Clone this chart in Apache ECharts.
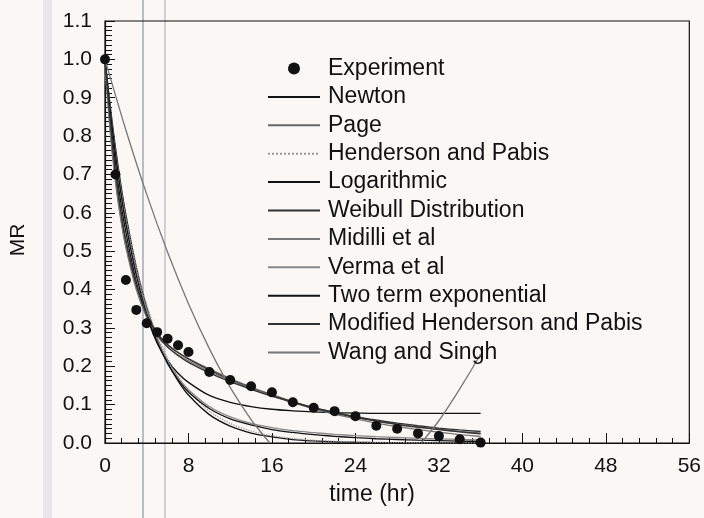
<!DOCTYPE html>
<html><head><meta charset="utf-8">
<script src="https://cdn.jsdelivr.net/npm/echarts@6/dist/echarts.min.js"></script>
<style>html,body{margin:0;padding:0;background:#faf7f4;}#c{width:704px;height:518px;}</style>
</head><body><div id="c"></div>
<script>
// Experimental points
const expTime = [0,1,2,3,4,5,6,7,8,10,12,14,16,18,20,22,24,26,28,30,32,34,36];
const expMR   = [1.0,0.70,0.425,0.347,0.312,0.289,0.272,0.255,0.237,0.185,0.164,0.148,0.132,0.106,0.092,0.083,0.070,0.045,0.037,0.025,0.018,0.010,0.001];

// Model curves
const fitTime = [0,0.5,1,1.5,2,3,4,5,6,7,8,10,12,14,16,18,20,22,24,26,28,30,32,34,36];
const newton   = [1,0.878,0.771,0.677,0.595,0.458,0.353,0.273,0.210,0.162,0.125,0.074,0.044,0.026,0.016,0.009,0.0055,0.0033,0.0019,0.0012,0.0007,0.0004,0.0002,0.0001,0.0001];
const page     = [1,0.82,0.69,0.59,0.515,0.405,0.33,0.283,0.255,0.236,0.22,0.193,0.168,0.146,0.126,0.108,0.092,0.079,0.068,0.058,0.049,0.042,0.036,0.030,0.026];
const hendPabis= [0.96,0.85,0.752,0.665,0.588,0.46,0.36,0.282,0.221,0.173,0.135,0.083,0.051,0.031,0.019,0.0117,0.0072,0.0044,0.0027,0.0016,0.001,0.0006,0.0004,0.0002,0.0001];
const logarithmic = [1,0.85,0.73,0.63,0.55,0.42,0.33,0.26,0.215,0.182,0.158,0.124,0.106,0.095,0.088,0.084,0.081,0.079,0.078,0.077,0.077,0.077,0.077,0.077,0.077];
const weibull  = [1,0.83,0.70,0.60,0.52,0.41,0.335,0.287,0.257,0.236,0.219,0.19,0.165,0.143,0.124,0.107,0.092,0.08,0.069,0.06,0.052,0.045,0.039,0.034,0.03];
const midilli  = [1,0.81,0.68,0.585,0.51,0.40,0.327,0.28,0.25,0.23,0.214,0.187,0.163,0.142,0.123,0.105,0.089,0.075,0.063,0.052,0.043,0.035,0.028,0.022,0.017];
const verma    = [1,0.872,0.76,0.664,0.581,0.447,0.347,0.272,0.215,0.171,0.139,0.095,0.068,0.051,0.04,0.032,0.027,0.0227,0.0193,0.0166,0.0143,0.0122,0.0106,0.0093,0.0081];
const twoTerm  = [1,0.867,0.753,0.655,0.571,0.437,0.336,0.263,0.207,0.165,0.133,0.09,0.063,0.047,0.035,0.0275,0.0217,0.0175,0.014,0.0111,0.0091,0.0075,0.0061,0.005,0.0041];
const modHendPabis = [1,0.84,0.71,0.61,0.53,0.415,0.335,0.283,0.25,0.228,0.21,0.183,0.16,0.14,0.122,0.106,0.091,0.078,0.067,0.057,0.048,0.041,0.035,0.029,0.024];
const wangTime = [0,2,4,6,8,10,12,14,15,15.8,23,30.3,32,34,36];
const wangSingh = [1,0.816,0.648,0.497,0.363,0.246,0.145,0.061,0.026,0,null,0,0.058,0.141,0.232];

const xTicks = [0,8,16,24,32,40,48,56];
const yTicks = [0,0.1,0.2,0.3,0.4,0.5,0.6,0.7,0.8,0.9,1.0,1.1];

const FONT = 'Liberation Sans';
const pair = (t, v) => t.map((x, i) => [x, v[i]]);

const models = [
  {name:'Newton', t:fitTime, v:newton, color:'#111', type:'solid'},
  {name:'Page', t:fitTime, v:page, color:'#666', type:'solid'},
  {name:'Henderson and Pabis', t:fitTime, v:hendPabis, color:'#9a9a9a', type:'dotted'},
  {name:'Logarithmic', t:fitTime, v:logarithmic, color:'#111', type:'solid'},
  {name:'Weibull Distribution', t:fitTime, v:weibull, color:'#333', type:'solid'},
  {name:'Midilli et al', t:fitTime, v:midilli, color:'#777', type:'solid'},
  {name:'Verma et al', t:fitTime, v:verma, color:'#888', type:'solid'},
  {name:'Two term exponential', t:fitTime, v:twoTerm, color:'#111', type:'solid'},
  {name:'Modified Henderson and Pabis', t:fitTime, v:modHendPabis, color:'#333', type:'solid'},
  {name:'Wang and Singh', t:wangTime, v:wangSingh, color:'#777', type:'solid'}
];

const series = [{
  name:'Experiment', type:'scatter', data: pair(expTime, expMR),
  symbol:'circle', symbolSize:10, itemStyle:{color:'#111', opacity:1}, z:5
}].concat(models.map(m => ({
  name:m.name, type:'line', data:pair(m.t, m.v), showSymbol:false, symbol:'none',
  smooth:0.3, connectNulls:false, clip:true,
  lineStyle:{color:m.color, width:1.3, type:m.type}, itemStyle:{color:m.color}
})));

const legendData = [{name:'Experiment', itemStyle:{color:'#111', opacity:1}}].concat(
  models.map(m => ({name:m.name, itemStyle:{opacity:0}}))
);

const chart = echarts.init(document.getElementById('c'), null, {renderer:'canvas'});
chart.setOption({
  backgroundColor:'#faf7f4',
  animation:false,
  grid:{left:103, right:14, top:21, bottom:75, show:true, borderColor:'#111', borderWidth:1.2, backgroundColor:'transparent'},
  graphic:[
    {type:'rect', shape:{x:43, y:0, width:9, height:518}, style:{fill:'#e8e6ea'}, z:-1, silent:true},
    {type:'line', shape:{x1:143, y1:0, x2:143, y2:518}, style:{stroke:'#bcbcc8', lineWidth:2}, z:-1, silent:true},
    {type:'line', shape:{x1:165, y1:0, x2:165, y2:518}, style:{stroke:'#cfcfd8', lineWidth:2}, z:-1, silent:true}
  ],
  legend:{
    orient:'vertical', left:262, top:52, itemWidth:52, itemHeight:12, itemGap:5.4,
    textStyle:{fontFamily:FONT, fontSize:23, color:'#111', lineHeight:20.4, padding:[0,0,0,3]},
    data:legendData,
    selectedMode:false
  },
  xAxis:{
    type:'value', min:0, max:56, interval:8,
    name:'time (hr)', nameLocation:'middle', nameGap:40,
    nameTextStyle:{fontFamily:FONT, fontSize:23, color:'#111', padding:[0,50,0,0]},
    axisLine:{show:true, lineStyle:{color:'#111', width:1.2}},
    axisTick:{show:true, inside:true, length:10, lineStyle:{color:'#111'}},
    minorTick:{show:true, splitNumber:5, length:5, lineStyle:{color:'#111'}},
    axisLabel:{fontFamily:FONT, fontSize:21, color:'#111', margin:13},
    splitLine:{show:false}
  },
  yAxis:{
    type:'value', min:0, max:1.1, interval:0.1,
    name:'MR', nameLocation:'middle', nameGap:76, nameRotate:90,
    nameTextStyle:{fontFamily:FONT, fontSize:21, color:'#111', padding:[0,16,0,0]},
    axisLine:{show:true, lineStyle:{color:'#111', width:1.2}},
    axisTick:{show:true, inside:true, length:10, lineStyle:{color:'#111'}},
    minorTick:{show:true, splitNumber:8, length:7, lineStyle:{color:'#111'}},
    axisLabel:{fontFamily:FONT, fontSize:21, color:'#111', margin:13, formatter:v=>v.toFixed(1)},
    splitLine:{show:false}
  },
  series: series
});
</script></body></html>
